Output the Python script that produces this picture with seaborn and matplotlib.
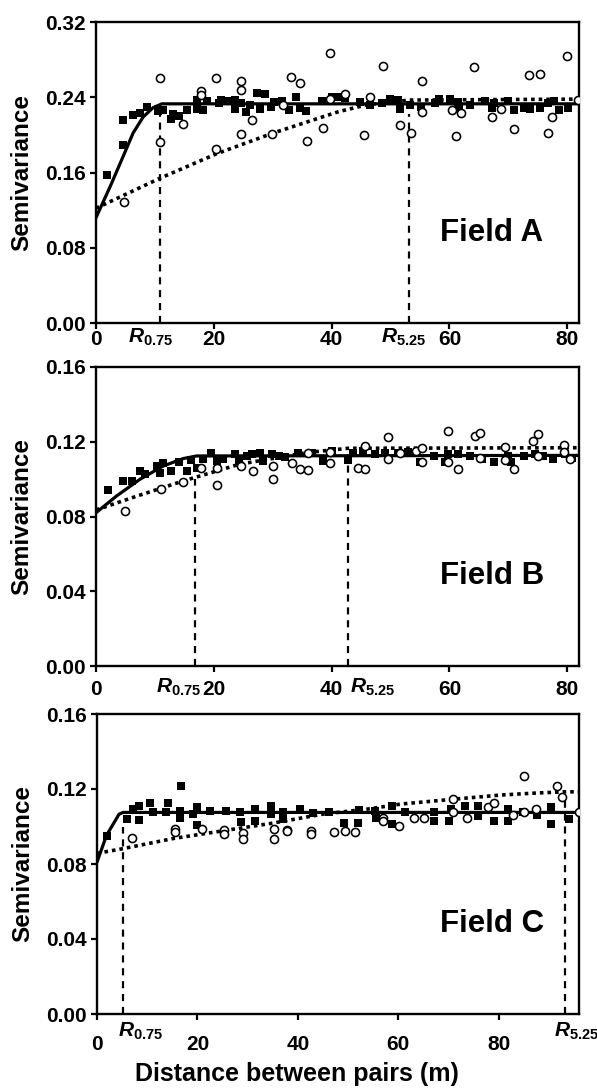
import matplotlib
matplotlib.use("Agg")
import matplotlib.pyplot as plt
import matplotlib.transforms as mtransforms
from matplotlib.ticker import FormatStrFormatter
import seaborn as sns
import numpy as np

# ---------------- data ----------------
# Field A
a_sq_x = [1.9, 4.6, 4.6, 6.2, 7.5, 8.6, 10.6, 11.4, 12.8, 13.0, 14.1, 15.4, 17.1, 17.1, 18.1, 18.9,
          20.8, 21.3, 22.2, 23.6, 23.6, 24.7, 25.4, 26.1, 27.4, 28.7, 27.8, 29.7, 30.2, 31.5, 32.8,
          33.9, 34.6, 35.7, 38.3, 40.0, 40.9, 42.3, 44.8, 46.5, 48.5, 49.9, 51.3, 51.6, 53.3, 55.2,
          57.6, 58.2, 60.1, 61.5, 61.6, 63.5, 66.0, 67.2, 67.6, 70.0, 70.9, 72.6, 73.7, 75.4, 76.8,
          77.8, 78.6, 80.2]
a_sq_y = [0.157, 0.189, 0.216, 0.221, 0.223, 0.230, 0.225, 0.226, 0.217, 0.222, 0.220, 0.226, 0.237,
          0.227, 0.226, 0.236, 0.234, 0.237, 0.236, 0.237, 0.227, 0.234, 0.224, 0.232, 0.244, 0.243,
          0.228, 0.230, 0.235, 0.236, 0.226, 0.240, 0.229, 0.225, 0.236, 0.240, 0.240, 0.239, 0.235,
          0.232, 0.234, 0.238, 0.237, 0.228, 0.232, 0.230, 0.234, 0.238, 0.238, 0.235, 0.227, 0.232,
          0.236, 0.229, 0.234, 0.236, 0.226, 0.229, 0.228, 0.229, 0.234, 0.236, 0.226, 0.229]
a_ci_x = [4.8, 10.9, 10.9, 14.7, 17.8, 17.8, 20.3, 20.3, 24.6, 24.6, 24.6, 26.5, 29.9, 31.7, 33.1,
          34.6, 35.9, 38.5, 39.8, 39.8, 42.2, 45.5, 46.6, 48.7, 51.6, 53.5, 55.3, 55.3, 60.4, 61.2,
          62.0, 64.2, 67.3, 68.7, 70.9, 73.5, 75.4, 76.8, 77.5, 79.9, 81.9]
a_ci_y = [0.129, 0.260, 0.192, 0.212, 0.247, 0.242, 0.260, 0.185, 0.257, 0.248, 0.201, 0.216, 0.201,
          0.232, 0.262, 0.255, 0.193, 0.207, 0.287, 0.238, 0.243, 0.200, 0.240, 0.273, 0.210, 0.202,
          0.257, 0.224, 0.226, 0.199, 0.223, 0.272, 0.219, 0.227, 0.206, 0.264, 0.265, 0.202, 0.219,
          0.284, 0.237]
a_fit_sq_x = [0, 2.4, 4.6, 6.3, 8.0, 9.7, 11.2, 82]
a_fit_sq_y = [0.112, 0.145, 0.177, 0.202, 0.219, 0.229, 0.233, 0.233]
a_fit_ci_x = [0, 10.9, 20.5, 30.1, 41.2, 46.0, 53.2, 82]
a_fit_ci_y = [0.122, 0.154, 0.180, 0.202, 0.2247, 0.232, 0.237, 0.238]

# Field B
b_sq_x = [2.1, 4.6, 6.1, 7.5, 8.3, 10.3, 10.9, 11.4, 12.8, 14.1, 15.5, 16.2, 17.2, 18.2, 19.5, 20.5,
          21.6, 23.6, 24.2, 25.6, 26.4, 27.8, 28.4, 29.8, 31.0, 32.1, 34.3, 36.6, 38.6, 40.0, 42.8,
          43.7, 45.4, 47.4, 49.1, 51.3, 53.0, 55.0, 57.3, 59.3, 59.8, 61.5, 63.5, 65.5, 67.5, 70.0,
          70.5, 72.6, 74.5, 75.9, 77.6, 79.6, 80.8]
b_sq_y = [0.0942, 0.0990, 0.0990, 0.1044, 0.1026, 0.1070, 0.1035, 0.1085, 0.1044, 0.1092, 0.1044,
          0.1103, 0.1062, 0.1106, 0.1142, 0.1097, 0.1110, 0.1133, 0.1097, 0.1124, 0.1133, 0.1139,
          0.1097, 0.1133, 0.1124, 0.1120, 0.1142, 0.1142, 0.1097, 0.1151, 0.1103, 0.1142, 0.1151,
          0.1133, 0.1142, 0.1142, 0.1146, 0.1092, 0.1124, 0.1092, 0.1133, 0.1133, 0.1124, 0.1110,
          0.1092, 0.1124, 0.1092, 0.1124, 0.1133, 0.1124, 0.1106, 0.1133, 0.1115]
b_ci_x = [4.9, 11.0, 14.8, 17.9, 20.5, 20.5, 24.7, 26.6, 30.1, 30.1, 33.2, 34.6, 36.0, 36.0, 39.8,
          39.8, 44.5, 45.7, 45.7, 49.6, 49.6, 51.6, 54.4, 55.4, 55.4, 59.7, 59.7, 61.4, 64.3, 65.2,
          65.2, 69.4, 69.4, 71.0, 74.2, 75.0, 75.0, 79.5, 79.5, 80.5]
b_ci_y = [0.0829, 0.0949, 0.0984, 0.1062, 0.1062, 0.0967, 0.1070, 0.1044, 0.1070, 0.1003, 0.1085,
          0.1056, 0.1049, 0.1142, 0.1085, 0.1146, 0.1062, 0.1178, 0.1053, 0.1223, 0.1110, 0.1142,
          0.1151, 0.1169, 0.1089, 0.1258, 0.1092, 0.1056, 0.1232, 0.1246, 0.1115, 0.1172, 0.1103,
          0.1053, 0.1205, 0.1241, 0.1124, 0.1182, 0.1146, 0.1106]
b_fit_sq_x = [0, 3.5, 7.5, 11.4, 14.8, 17.1, 82]
b_fit_sq_y = [0.082, 0.091, 0.100, 0.107, 0.111, 0.1124, 0.1127]
b_fit_ci_x = [0, 7.5, 14.8, 24.4, 35.8, 42.8, 82]
b_fit_ci_y = [0.0835, 0.0915, 0.099, 0.108, 0.1142, 0.1165, 0.1168]

# Field C
c_sq_x = [1.9, 5.9, 7.2, 8.4, 8.4, 10.5, 11.1, 14.2, 13.7, 16.8, 16.5, 16.5, 19.9, 19.9, 19.1, 22.6,
          25.6, 28.4, 28.6, 31.4, 31.4, 34.7, 34.7, 37.0, 37.0, 40.4, 43.1, 46.2, 49.2, 51.9, 52.1,
          55.3, 55.6, 58.7, 58.7, 61.4, 67.2, 67.2, 70.2, 70.5, 73.3, 75.8, 75.8, 79.0, 81.8, 81.9,
          84.8, 87.6, 90.4, 90.4, 94.0]
c_sq_y = [0.0950, 0.1039, 0.1093, 0.1107, 0.1035, 0.1125, 0.1075, 0.1125, 0.1075, 0.1214, 0.1084,
          0.1043, 0.1102, 0.1007, 0.1066, 0.1084, 0.1084, 0.1075, 0.1025, 0.1093, 0.1030, 0.1110,
          0.1066, 0.1078, 0.1039, 0.1093, 0.1071, 0.1078, 0.1021, 0.1021, 0.1089, 0.1084, 0.1043,
          0.1107, 0.1012, 0.1075, 0.1075, 0.1030, 0.1030, 0.1096, 0.1110, 0.1107, 0.1057, 0.1030,
          0.1030, 0.1096, 0.1075, 0.1060, 0.1102, 0.1012, 0.1039]
c_ci_x = [6.9, 15.5, 15.5, 21.0, 25.2, 25.2, 29.0, 29.0, 35.2, 35.2, 37.8, 37.8, 42.7, 42.7, 47.3,
          49.3, 51.3, 56.9, 56.9, 60.2, 63.2, 65.1, 71.0, 71.0, 73.7, 77.8, 79.0, 82.8, 85.0, 85.1,
          87.4, 91.7, 92.7, 96.0]
c_ci_y = [0.0941, 0.0986, 0.0971, 0.0989, 0.0982, 0.0959, 0.0968, 0.0936, 0.0989, 0.0936, 0.0982,
          0.0975, 0.0977, 0.0959, 0.0971, 0.0977, 0.0971, 0.1048, 0.1030, 0.1003, 0.1048, 0.1043,
          0.1146, 0.1080, 0.1043, 0.1102, 0.1128, 0.1060, 0.1078, 0.1268, 0.1096, 0.1214, 0.1155,
          0.1075]
c_fit_sq_x = [0, 1.9, 4.4, 5.2, 96]
c_fit_sq_y = [0.081, 0.0953, 0.1066, 0.1075, 0.1075]
c_fit_ci_x = [0, 5.2, 15.2, 25.1, 35.0, 45.0, 53.9, 60.6, 71.2, 80.5, 87.1, 93.2, 96]
c_fit_ci_y = [0.0857, 0.0882, 0.0936, 0.0977, 0.1018, 0.1066, 0.1093, 0.1120, 0.1146, 0.1168,
              0.1178, 0.1185, 0.1185]

# ranges (R0.75, R5.25) and heights of the dashed markers
range_labels = [r"$\it{R}_{0.75}$", r"$\it{R}_{5.25}$"]
a_ranges = [10.9, 53.1]
b_ranges = [16.8, 42.8]
c_ranges = [5.2, 93.2]
a_range_tops = [0.222, 0.222]
b_range_tops = [0.100, 0.110]
c_range_tops = [0.100, 0.115]

field_names = ["Field A", "Field B", "Field C"]
y_ticks_a = [0.00, 0.08, 0.16, 0.24, 0.32]
y_ticks_bc = [0.00, 0.04, 0.08, 0.12, 0.16]
x_ticks = [0, 20, 40, 60, 80]

# ---------------- style ----------------
sns.set_style("ticks")
plt.rcParams["font.family"] = ["Liberation Sans", "DejaVu Sans"]
plt.rcParams["font.weight"] = "bold"
plt.rcParams["text.color"] = "black"
plt.rcParams["axes.labelcolor"] = "black"
plt.rcParams["xtick.color"] = "black"
plt.rcParams["ytick.color"] = "black"
plt.rcParams["axes.edgecolor"] = "black"
plt.rcParams["mathtext.fontset"] = "custom"
plt.rcParams["mathtext.rm"] = "Liberation Sans:bold"
plt.rcParams["mathtext.bf"] = "Liberation Sans:bold"
plt.rcParams["mathtext.it"] = "Liberation Sans:italic:bold"
plt.rcParams["axes.linewidth"] = 1.7

fig = plt.figure(figsize=(5.97, 10.89), dpi=100)
W, H = 597.0, 1089.0

def add_ax(left, top, right, bottom):
    return fig.add_axes([left / W, 1 - bottom / H, (right - left) / W, (bottom - top) / H])

axA = add_ax(96, 22, 579, 323)
axB = add_ax(96, 367, 579, 666)
axC = add_ax(97, 714, 579, 1014)

panels = [
    (axA, a_sq_x, a_sq_y, a_ci_x, a_ci_y, a_fit_sq_x, a_fit_sq_y, a_fit_ci_x, a_fit_ci_y,
     a_ranges, a_range_tops, (0, 82), (0, 0.32), y_ticks_a, 1.0, -0.047, [5.4, 48.4]),
    (axB, b_sq_x, b_sq_y, b_ci_x, b_ci_y, b_fit_sq_x, b_fit_sq_y, b_fit_ci_x, b_fit_ci_y,
     b_ranges, b_range_tops, (0, 82), (0, 0.16), y_ticks_bc, 6.0, -0.072, [10.2, 43.1]),
    (axC, c_sq_x, c_sq_y, c_ci_x, c_ci_y, c_fit_sq_x, c_fit_sq_y, c_fit_ci_x, c_fit_ci_y,
     c_ranges, c_range_tops, (0, 96), (0, 0.16), y_ticks_bc, 11.0, -0.057, [4.2, 91.0]),
]

for i, (ax, sx, sy, cx, cy, fsx, fsy, fcx, fcy, rng, rtop, xl, yl, yt, pad, ry, rlx) in enumerate(panels):
    sns.lineplot(x=fsx, y=fsy, ax=ax, color="black", lw=2.3, estimator=None, sort=False, zorder=2)
    sns.lineplot(x=fcx, y=fcy, ax=ax, color="black", lw=2.6, estimator=None, sort=False,
                 linestyle=(0, (1, 1.1)), zorder=2)
    ax.vlines(rng, 0, rtop, colors="black", linestyles=(0, (3.2, 2.6)), lw=1.6, zorder=1)
    sns.scatterplot(x=sx, y=sy, ax=ax, marker="s", color="black", s=30, linewidth=0, zorder=3)
    sns.scatterplot(x=cx, y=cy, ax=ax, marker="o", color="white", edgecolor="black",
                    s=34, linewidth=1.15, zorder=4)
    ax.set_xlim(*xl)
    ax.set_ylim(*yl)
    ax.set_xticks(x_ticks)
    ax.set_yticks(yt)
    ax.yaxis.set_major_formatter(FormatStrFormatter("%.2f"))
    ax.tick_params(axis="both", direction="out", length=4, width=1.6, labelsize=15, color="black",
                   labelcolor="black")
    ax.tick_params(axis="x", pad=pad)
    for lab in ax.get_xticklabels() + ax.get_yticklabels():
        lab.set_fontweight("bold")
    for sp in ax.spines.values():
        sp.set_visible(True)
        sp.set_linewidth(1.7)
        sp.set_color("black")
    ax.set_ylabel("Semivariance", fontsize=17.5, fontweight="bold", color="black")
    ax.yaxis.set_label_coords(-0.13, 0.5)
    ax.text(0.82, 0.30, field_names[i], transform=ax.transAxes, ha="center", va="center",
            fontsize=22.5, fontweight="bold", color="black")
    trans = mtransforms.blended_transform_factory(ax.transData, ax.transAxes)
    for lx, lab in zip(rlx, range_labels):
        ax.text(lx, ry, lab, transform=trans, ha="left", va="center", fontsize=15,
                clip_on=False, color="black")

axC.set_xlabel("Distance between pairs (m)", fontsize=18, fontweight="bold", color="black")
axC.xaxis.set_label_coords(0.415, -0.16)

fig.savefig("out.png", dpi=100)
